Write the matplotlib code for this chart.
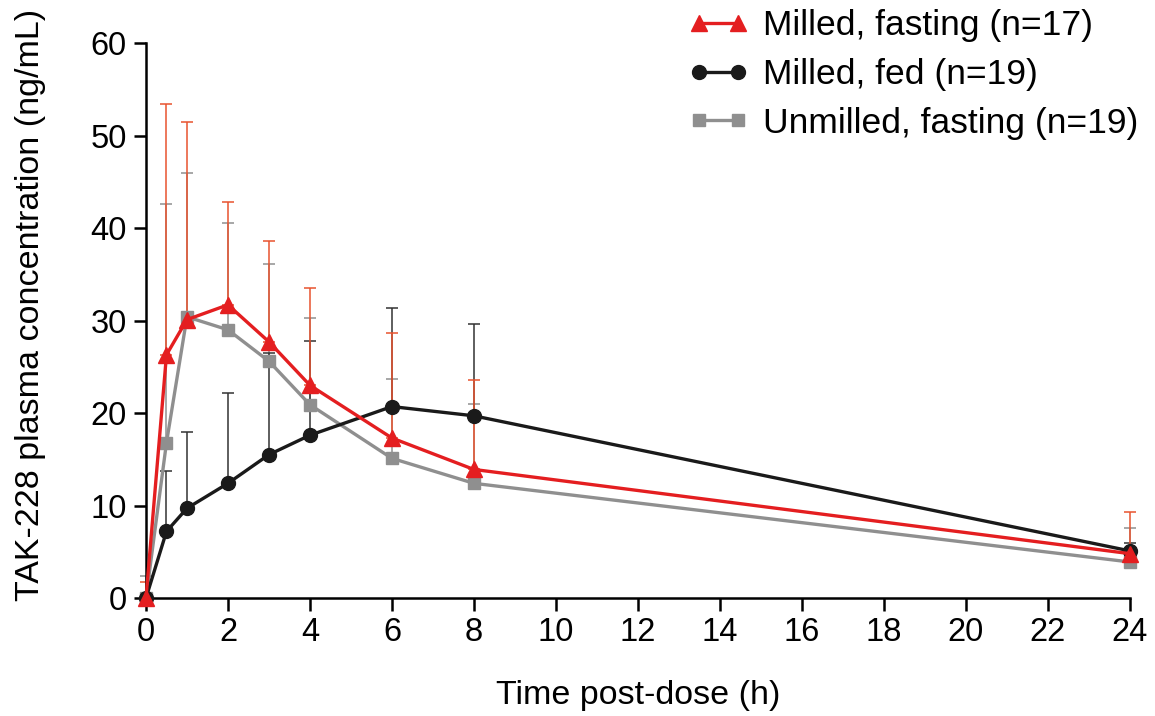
import matplotlib
matplotlib.use("Agg")
import matplotlib.pyplot as plt
import numpy as np

plt.rcParams['font.family'] = ['Liberation Sans', 'DejaVu Sans']

time_h = [0, 0.5, 1, 2, 3, 4, 6, 8, 24]

milled_fasting = [0, 26.3, 30.1, 31.7, 27.7, 23.0, 17.3, 13.9, 4.8]
milled_fasting_upper = [1.7, 53.4, 51.5, 42.8, 38.6, 33.5, 28.7, 23.6, 9.3]

milled_fed = [0, 7.2, 9.7, 12.4, 15.5, 17.6, 20.7, 19.7, 5.1]
milled_fed_upper = [0.5, 13.7, 17.9, 22.2, 26.5, 27.8, 31.4, 29.6, 6.0]

unmilled_fasting = [0, 16.8, 30.4, 29.0, 25.6, 20.9, 15.1, 12.4, 3.9]
unmilled_fasting_upper = [2.4, 42.6, 46.0, 40.6, 36.1, 30.3, 23.7, 21.0, 7.6]

labels = ["Milled, fasting (n=17)", "Milled, fed (n=19)", "Unmilled, fasting (n=19)"]
x_ticks = list(range(0, 25, 2))
y_ticks = list(range(0, 61, 10))

RED = "#e41e20"
RED_ERR = "#e8532f"
BLACK = "#1a1a1a"
GRAY = "#8f8f8f"

fig = plt.figure(figsize=(11.55, 7.16), dpi=100)
ax = fig.add_axes([0.1264, 0.1648, 0.8516, 0.775])

series = [
    (unmilled_fasting, unmilled_fasting_upper, GRAY, GRAY, 's', 8.5, labels[2], 2),
    (milled_fed, milled_fed_upper, BLACK, "#333333", 'o', 10, labels[1], 3),
    (milled_fasting, milled_fasting_upper, RED, RED_ERR, '^', 11.5, labels[0], 4),
]

handles = {}
for vals, upper, col, ecol, mk, ms, lab, z in series:
    v = np.array(vals)
    u = np.array(upper)
    err = np.vstack([np.zeros_like(v), u - v])
    ax.errorbar(time_h, vals, yerr=err, fmt='none', ecolor=ecol, elinewidth=1.1,
                capsize=4.5, capthick=1.1, zorder=1, clip_on=False)
    h, = ax.plot(time_h, vals, color=col, lw=2.4, marker=mk, ms=ms,
                 markeredgecolor=col, zorder=z, clip_on=False, label=lab)
    handles[lab] = h

ax.set_xlim(0, 24)
ax.set_ylim(0, 60)
ax.set_xticks(x_ticks)
ax.set_yticks(y_ticks)
for s in ['top', 'right']:
    ax.spines[s].set_visible(False)
for s in ['left', 'bottom']:
    ax.spines[s].set_linewidth(1.8)
ax.tick_params(axis='both', direction='out', length=9, width=1.8, labelsize=23.5, pad=5)
ax.set_xlabel("Time post-dose (h)", fontsize=24.5, labelpad=23)
ax.set_ylabel("TAK-228 plasma concentration (ng/mL)", fontsize=24.5)
ax.yaxis.set_label_coords(-0.102, 0.528)

leg = fig.legend([handles[l] for l in labels], labels, loc='upper left',
                 bbox_to_anchor=(688 / 1155, 1 - 9 / 716), frameon=False, fontsize=25.5,
                 numpoints=2, handlelength=1.7, handletextpad=0.42, labelspacing=0.45,
                 borderaxespad=0, borderpad=0)

fig.savefig("out.png", dpi=100)
